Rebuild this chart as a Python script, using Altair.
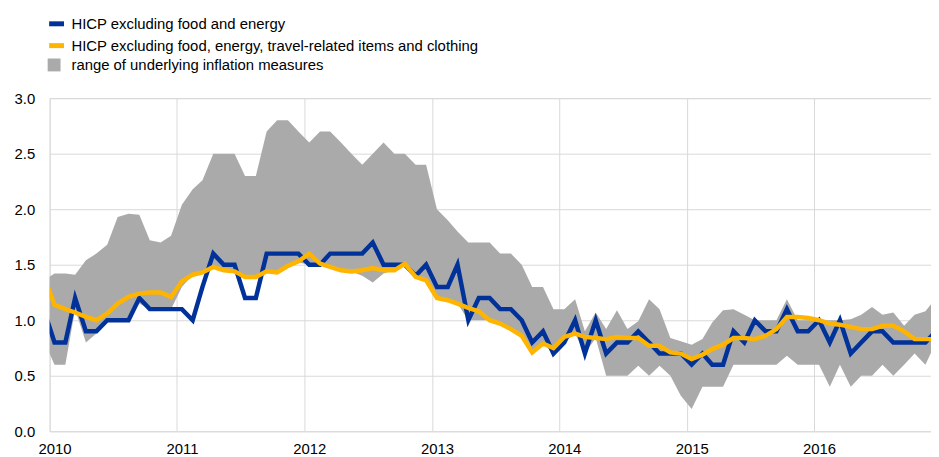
import altair as alt
import pandas as pd

S1 = "HICP excluding food and energy"
S2 = "HICP excluding food, energy, travel-related items and clothing"
S3 = "range of underlying inflation measures"

# monthly observations, Dec 2009 .. Dec 2016 (mid-month)
months = [f"{y}-{m:02d}-15" for y in range(2009, 2017) for m in range(1, 13)][11:]

core = [
    1.1,
    0.8, 0.8, 1.2, 0.9, 0.9, 1.0, 1.0, 1.0, 1.2, 1.1, 1.1, 1.1,
    1.1, 1.0, 1.3, 1.6, 1.5, 1.5, 1.2, 1.2, 1.6, 1.6, 1.6, 1.6,
    1.5, 1.5, 1.6, 1.6, 1.6, 1.6, 1.7, 1.5, 1.5, 1.5, 1.4, 1.5,
    1.3, 1.3, 1.5, 1.0, 1.2, 1.2, 1.1, 1.1, 1.0, 0.8, 0.9, 0.7,
    0.8, 1.0, 0.7, 1.0, 0.7, 0.8, 0.8, 0.9, 0.8, 0.7, 0.7, 0.7,
    0.6, 0.7, 0.6, 0.6, 0.9, 0.8, 1.0, 0.9, 0.9, 1.1, 0.9, 0.9,
    1.0, 0.8, 1.0, 0.7, 0.8, 0.9, 0.9, 0.8, 0.8, 0.8, 0.8, 0.9,
]

supercore = [
    1.40,
    1.14, 1.10, 1.07, 1.03, 1.00, 1.06, 1.15, 1.21, 1.24, 1.25, 1.25, 1.21,
    1.35, 1.41, 1.43, 1.48, 1.45, 1.44, 1.39, 1.39, 1.44, 1.43, 1.49, 1.53,
    1.60, 1.51, 1.48, 1.45, 1.44, 1.45, 1.47, 1.45, 1.45, 1.51, 1.39, 1.36,
    1.20, 1.18, 1.15, 1.11, 1.08, 1.00, 0.97, 0.92, 0.86, 0.71, 0.79, 0.75,
    0.85, 0.88, 0.85, 0.84, 0.83, 0.85, 0.84, 0.84, 0.77, 0.77, 0.71, 0.70,
    0.65, 0.69, 0.74, 0.78, 0.84, 0.84, 0.83, 0.86, 0.92, 1.03, 1.03, 1.02,
    1.00, 0.97, 0.96, 0.94, 0.92, 0.92, 0.95, 0.95, 0.90, 0.83, 0.83, 0.83,
]

range_high = [
    1.36,
    1.42, 1.42, 1.41, 1.54, 1.60, 1.68, 1.93, 1.96, 1.95, 1.72, 1.70, 1.76,
    2.04, 2.18, 2.26, 2.50, 2.50, 2.50, 2.30, 2.30, 2.70, 2.80, 2.80, 2.70,
    2.60, 2.70, 2.70, 2.60, 2.50, 2.40, 2.50, 2.60, 2.50, 2.50, 2.40, 2.40,
    2.00, 1.90, 1.80, 1.70, 1.70, 1.70, 1.60, 1.60, 1.50, 1.30, 1.30, 1.10,
    1.10, 1.19, 0.90, 1.07, 0.92, 1.09, 0.92, 0.99, 1.19, 1.10, 0.84, 0.81,
    0.78, 0.83, 0.98, 1.09, 1.10, 1.05, 1.00, 1.00, 1.00, 1.19, 1.00, 1.00,
    1.00, 1.00, 1.00, 1.01, 1.05, 1.12, 1.05, 1.07, 0.95, 1.05, 1.08, 1.20,
]

range_low = [
    0.82,
    0.60, 0.60, 1.10, 0.80, 0.88, 1.00, 1.00, 1.00, 1.15, 1.10, 1.10, 1.10,
    1.30, 1.41, 1.43, 1.48, 1.45, 1.44, 1.38, 1.38, 1.44, 1.43, 1.49, 1.52,
    1.50, 1.50, 1.48, 1.45, 1.44, 1.40, 1.34, 1.42, 1.45, 1.50, 1.39, 1.36,
    1.20, 1.18, 1.15, 1.00, 1.00, 1.00, 0.97, 0.92, 0.86, 0.71, 0.79, 0.70,
    0.80, 0.88, 0.70, 0.84, 0.50, 0.50, 0.50, 0.59, 0.50, 0.59, 0.50, 0.32,
    0.20, 0.40, 0.40, 0.40, 0.60, 0.60, 0.60, 0.60, 0.60, 0.68, 0.60, 0.60,
    0.60, 0.40, 0.60, 0.40, 0.50, 0.50, 0.60, 0.50, 0.60, 0.70, 0.60, 0.80,
]

y_ticks = [0.0, 0.5, 1.0, 1.5, 2.0, 2.5, 3.0]
year_ticks = list(range(2010, 2017))

BLUE = "#003299"
YELLOW = "#FFB400"
GREY = "#AAAAAA"
GRID = "#D9D9D9"
FONT = "Liberation Sans"

df = pd.DataFrame({
    "date": months,
    "core": core,
    "supercore": supercore,
    "high": range_high,
    "low": range_low,
})

x_enc = alt.X(
    "date:T",
    scale=alt.Scale(
        type="utc",
        domain=[alt.DateTime(year=2010, month=1, date=1, utc=True),
                alt.DateTime(year=2016, month=12, date=1, utc=True)],
    ),
    axis=alt.Axis(
        values=[alt.DateTime(year=y, month=1, date=1, utc=True) for y in year_ticks],
        format="%Y",
        title=None,
        grid=True,
        gridColor=GRID,
        gridWidth=1,
        domain=False,
        ticks=False,
        labelFlush=False,
        labelOverlap=False,
        labelOffset=5,
        labelPadding=10,
        labelFont=FONT,
        labelFontSize=15,
        labelColor="#000000",
    ),
)

y_scale = alt.Scale(domain=[0, 3], nice=False)
y_axis = alt.Axis(
    values=y_ticks,
    format=".1f",
    title=None,
    grid=True,
    gridColor=GRID,
    gridWidth=1,
    domain=False,
    ticks=False,
    labelPadding=15,
    labelFont=FONT,
    labelFontSize=15,
    labelColor="#000000",
)

base = alt.Chart(df)

line_scale = alt.Scale(domain=[S1, S2], range=[BLUE, YELLOW])
line_legend = alt.Legend(
    orient="none",
    legendX=-3,
    legendY=-85,
    title=None,
    symbolType="stroke",
    symbolStrokeWidth=5,
    symbolSize=225,
    labelFont=FONT,
    labelFontSize=15,
    labelColor="#000000",
    labelOffset=5,
    labelLimit=0,
    rowPadding=2,
    padding=0,
    direction="vertical",
)

area = base.transform_calculate(rng=f"'{S3}'").mark_area(clip=True, opacity=1).encode(
    x=x_enc,
    y=alt.Y("high:Q", scale=y_scale, axis=y_axis),
    y2="low:Q",
    fill=alt.Fill(
        "rng:N",
        scale=alt.Scale(domain=[S3], range=[GREY]),
        legend=alt.Legend(
            orient="none",
            legendX=-3,
            legendY=-41,
            title=None,
            symbolType="square",
            symbolSize=169,
            symbolStrokeWidth=0,
            symbolOpacity=1,
            labelFont=FONT,
            labelFontSize=15,
            labelColor="#000000",
            labelOffset=10,
            labelLimit=0,
            padding=0,
        ),
    ),
)

blue_line = base.transform_calculate(series=f"'{S1}'").mark_line(
    clip=True, strokeWidth=4.5
).encode(
    x=x_enc,
    y=alt.Y("core:Q", scale=y_scale),
    color=alt.Color("series:N", scale=line_scale, legend=line_legend),
)

yellow_line = base.transform_calculate(series=f"'{S2}'").mark_line(
    clip=True, strokeWidth=4.5
).encode(
    x=x_enc,
    y=alt.Y("supercore:Q", scale=y_scale),
    color=alt.Color("series:N", scale=line_scale, legend=line_legend),
)

chart = (
    alt.layer(area, blue_line, yellow_line)
    .properties(
        width=889,
        height=336,
        autosize=alt.AutoSizeParams(type="none"),
        padding={"left": 42, "top": 89, "right": 0, "bottom": 24},
    )
    .configure_view(stroke=None)
    .configure(background="white")
)

chart.save("out.html", embed_options={"renderer": "svg", "actions": False})
